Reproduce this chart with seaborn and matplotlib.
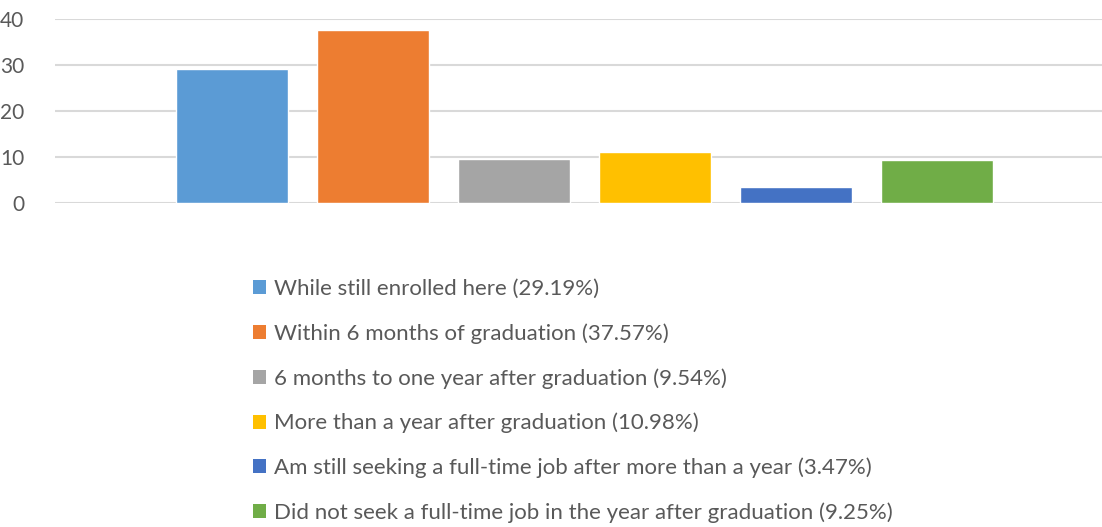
import numpy as np
import pandas as pd
import matplotlib
matplotlib.use("Agg")
import matplotlib.pyplot as plt
import seaborn as sns
from matplotlib.patches import Patch

categories = [
    "While still enrolled here",
    "Within 6 months of graduation",
    "6 months to one year after graduation",
    "More than a year after graduation",
    "Am still seeking a full-time job after more than a year",
    "Did not seek a full-time job in the year after graduation",
]
values = [29.19, 37.57, 9.54, 10.98, 3.47, 9.25]
colors = ["#5b9bd5", "#ed7d31", "#a5a5a5", "#ffc000", "#4472c4", "#70ad47"]
yticks = [0, 10, 20, 30, 40]

sns.set_style("white")
plt.rcParams['font.family'] = ['Lato', 'DejaVu Sans']
text_color = "#595959"

df = pd.DataFrame({"group": [""] * len(values), "answer": categories, "pct": values})

fig = plt.figure(figsize=(11.02, 5.27), dpi=100)
ax = fig.add_axes([55 / 1102, 1 - 203 / 527, 1047 / 1102, 184 / 527])

sns.barplot(data=df, x="group", y="pct", hue="answer", hue_order=categories,
            palette=colors, width=0.808, gap=0.206, saturation=1,
            legend=False, ax=ax)

ax.set_ylim(0, 40)
ax.set_xlim(-0.5 - 0.0057, 0.5 - 0.0057)
ax.set_yticks(yticks)
ax.set_yticklabels([str(t) for t in yticks], fontsize=15, color=text_color)
ax.set_xticks([])
ax.set_xlabel("")
ax.set_ylabel("")
ax.tick_params(axis="y", length=0, pad=22)
ax.yaxis.grid(True, color="#d9d9d9", linewidth=1.5)
ax.set_axisbelow(True)
for s in ax.spines.values():
    s.set_visible(False)

handles = [Patch(facecolor=c, edgecolor="none") for c in colors]
labels = [f"{c} ({v:.2f}%)" for c, v in zip(categories, values)]
fig.legend(handles, labels, loc="upper left", bbox_to_anchor=(253 / 1102, 1 - 279 / 527),
           frameon=False, fontsize=16, labelcolor=text_color,
           handlelength=0.6, handleheight=0.6, handletextpad=0.36,
           labelspacing=1.09, borderpad=0, borderaxespad=0)

fig.savefig("out.png", dpi=100)
